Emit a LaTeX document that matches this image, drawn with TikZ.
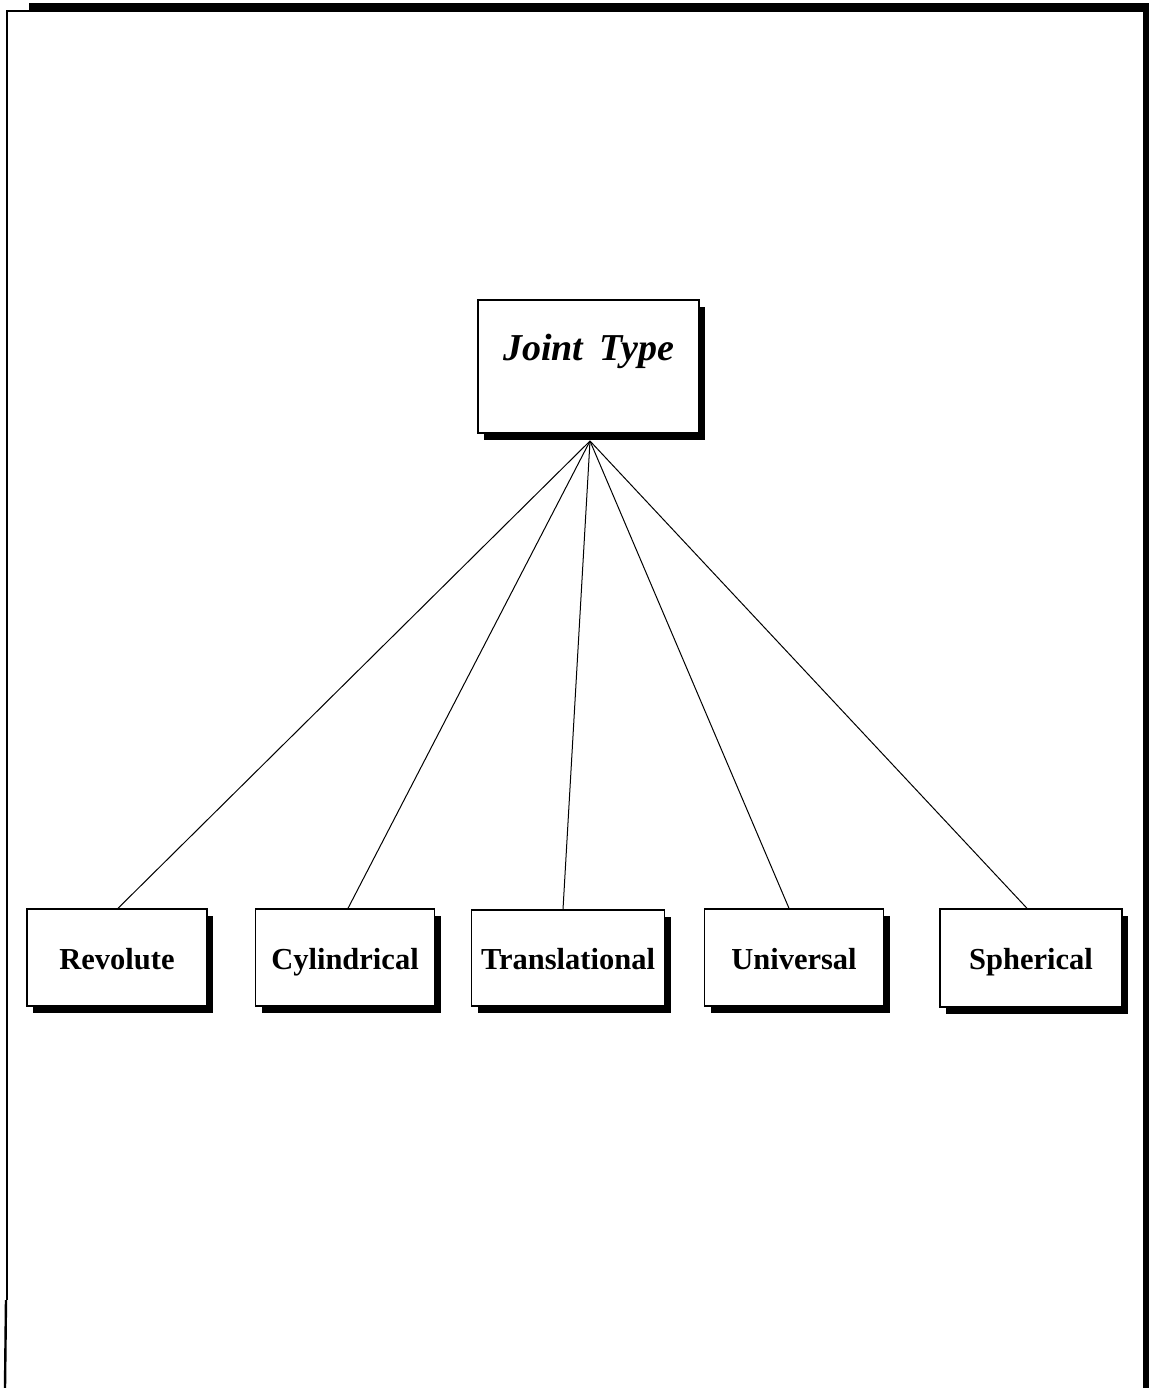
\documentclass[tikz,border=0pt]{standalone}
\usepackage{fontspec}
\setmainfont{Liberation Serif}
\usetikzlibrary{shadows}
\begin{document}
\begin{tikzpicture}[x=1pt,y=-1pt,
  jointbox/.style={draw=black,line width=1.4pt,fill=white,
    drop shadow={shadow xshift=6pt,shadow yshift=-7pt,fill=black,opacity=1},
    inner sep=0pt,text height=27pt,text depth=4pt,
    font=\fontsize{30.5}{36}\selectfont\bfseries},
  link/.style={line width=1pt}]
  % page area and frame
  \useasboundingbox (0,0) rectangle (1149,1388);
  \fill[white] (0,0) rectangle (1149,1388);
  \fill[black] (29,3) rectangle (1149,12);
  \fill[black] (1143,12) rectangle (1149,1388);
  \draw[line width=1.6pt] (29,11) -- (7,11) -- (7,1300);
  \draw[line width=2.4pt] (6,1300) -- (5,1388);

  % root node
  \node[jointbox,minimum width=221pt,minimum height=133pt,
        text height=10pt,text depth=23pt,
        font=\fontsize{38}{44}\selectfont\bfseries\itshape]
    (root) at (588.5,366.5) {Joint\hspace{0.42em}Type};
  \coordinate (hub) at (590,441);

  % leaf nodes
  \node[jointbox,minimum width=180pt,minimum height=97pt] (rev) at (117,957.5) {Revolute};
  \node[jointbox,minimum width=179pt,minimum height=97pt] (cyl) at (345,957.5) {Cylindrical};
  \node[jointbox,minimum width=193pt,minimum height=96pt] (tra) at (568,958) {Translational};
  \node[jointbox,minimum width=179pt,minimum height=97pt] (uni) at (794,957.5) {Universal};
  \node[jointbox,minimum width=182pt,minimum height=98pt] (sph) at (1031,958) {Spherical};

  % connectors
  \draw[link] (hub) -- ([xshift=1pt]rev.north);
  \draw[link] (hub) -- ([xshift=3pt]cyl.north);
  \draw[link] (hub) -- ([xshift=-5pt]tra.north);
  \draw[link] (hub) -- ([xshift=-5pt]uni.north);
  \draw[link] (hub) -- ([xshift=-4pt]sph.north);
\end{tikzpicture}
\end{document}
